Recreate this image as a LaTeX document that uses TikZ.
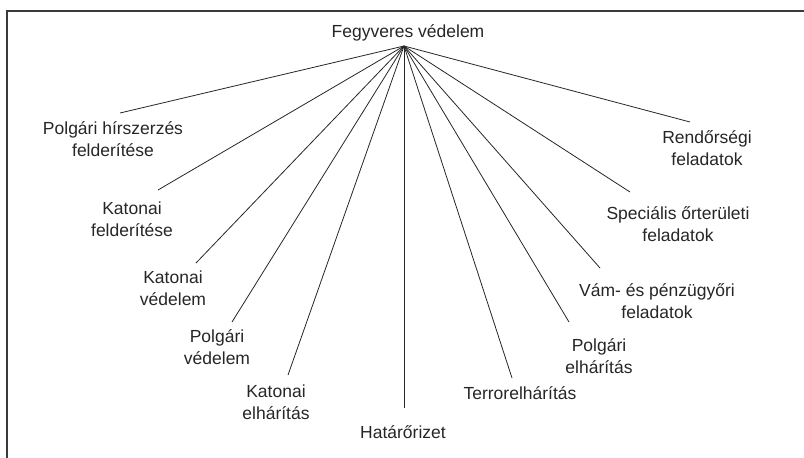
\documentclass[tikz,border=0pt]{standalone}
\usepackage{fontspec}
\setmainfont{Liberation Sans}
\usepackage{tikz}
\usetikzlibrary{positioning}
\definecolor{DiagramInk}{HTML}{262626}
\definecolor{FrameGray}{HTML}{3A3A3A}

\begin{document}
\begin{tikzpicture}[
        x=1pt, y=-1pt,
        font=\fontsize{17.5}{21.5}\selectfont,
        label/.style={
          text=DiagramInk,
          align=center,
          inner sep=0pt
        },
        spoke/.style={draw=DiagramInk, line width=0.8pt},
        frame/.style={draw=FrameGray, line width=1.6pt}
      ]
        \useasboundingbox (0,0) rectangle (804,458);
        \draw[frame] (804,11) -- (7,11) -- (7,458);

        \node[label] (root) at (408,33) {Fegyveres védelem};
        \coordinate (hub) at (404,46);

        \node[label] (polhir) at (113,139) {Polgári hírszerzés\\felderítése};
        \node[label] (katfel) at (132,219) {Katonai\\felderítése};
        \node[label] (katved) at (173,288) {Katonai\\védelem};
        \node[label] (polved) at (217,347) {Polgári\\védelem};
        \node[label] (katelh) at (276,402) {Katonai\\elhárítás};
        \node[label] (hatar) at (403,432) {Határőrizet};
        \node[label] (terror) at (520,393) {Terrorelhárítás};
        \node[label] (polelh) at (599,356) {Polgári\\elhárítás};
        \node[label] (vam) at (657,301) {Vám- és pénzügyőri\\feladatok};
        \node[label] (spec) at (678,224) {Speciális őrterületi\\feladatok};
        \node[label] (rend) at (707,148) {Rendőrségi\\feladatok};

        \coordinate (polhir-end) at (120,113);
        \coordinate (katfel-end) at (158,190);
        \coordinate (katved-end) at (196,263);
        \coordinate (polved-end) at (232,322);
        \coordinate (katelh-end) at (288,375);
        \coordinate (hatar-end) at (404,408);
        \coordinate (terror-end) at (512,378);
        \coordinate (polelh-end) at (569,322);
        \coordinate (vam-end) at (600,268);
        \coordinate (spec-end) at (630,192);
        \coordinate (rend-end) at (690,122);

        \draw[spoke] (hub) -- (polhir-end);
        \draw[spoke] (hub) -- (katfel-end);
        \draw[spoke] (hub) -- (katved-end);
        \draw[spoke] (hub) -- (polved-end);
        \draw[spoke] (hub) -- (katelh-end);
        \draw[spoke] (hub) -- (hatar-end);
        \draw[spoke] (hub) -- (terror-end);
        \draw[spoke] (hub) -- (polelh-end);
        \draw[spoke] (hub) -- (vam-end);
        \draw[spoke] (hub) -- (spec-end);
        \draw[spoke] (hub) -- (rend-end);
      \end{tikzpicture}
\end{document}
